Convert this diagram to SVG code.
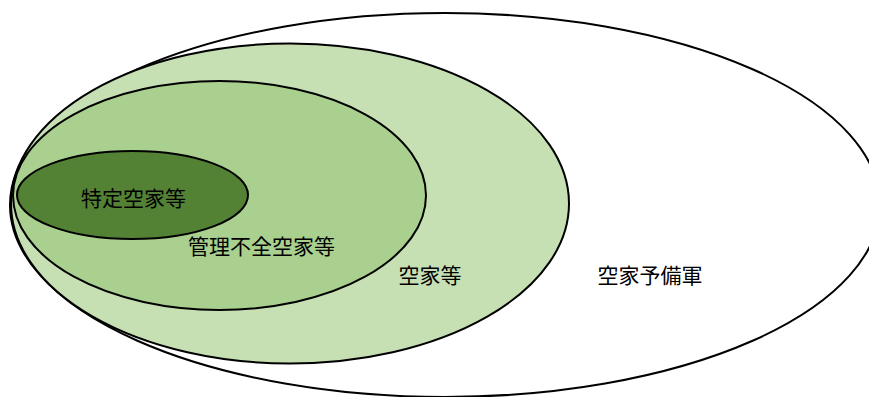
<svg xmlns="http://www.w3.org/2000/svg" width="869" height="397" viewBox="0 0 869 397">
<style>
.e{stroke:#000;stroke-width:2}
.t{font-family:"Noto Sans CJK JP","Noto Sans",sans-serif;font-size:21px;fill:#000;text-anchor:middle}
</style>
<rect width="869" height="397" fill="#fff"/>
<g id="yobigun">
<ellipse class="e" cx="445" cy="205" rx="435" ry="192" fill="#fff"/>
<text class="t" x="650" y="283">空家予備軍</text>
</g>
<g id="akiya">
<ellipse class="e" cx="290" cy="203.5" rx="279" ry="160" fill="#C6E0B4"/>
<text class="t" x="430" y="283">空家等</text>
</g>
<g id="kanri">
<ellipse class="e" cx="219.5" cy="195.5" rx="206.5" ry="114.5" fill="#A9D08E"/>
<text class="t" x="261.5" y="254">管理不全空家等</text>
</g>
<g id="tokutei">
<ellipse class="e" cx="132.5" cy="195" rx="115.5" ry="44" fill="#548235"/>
<text class="t" x="133.5" y="206">特定空家等</text>
</g>
<g id="connectors"/>
</svg>
